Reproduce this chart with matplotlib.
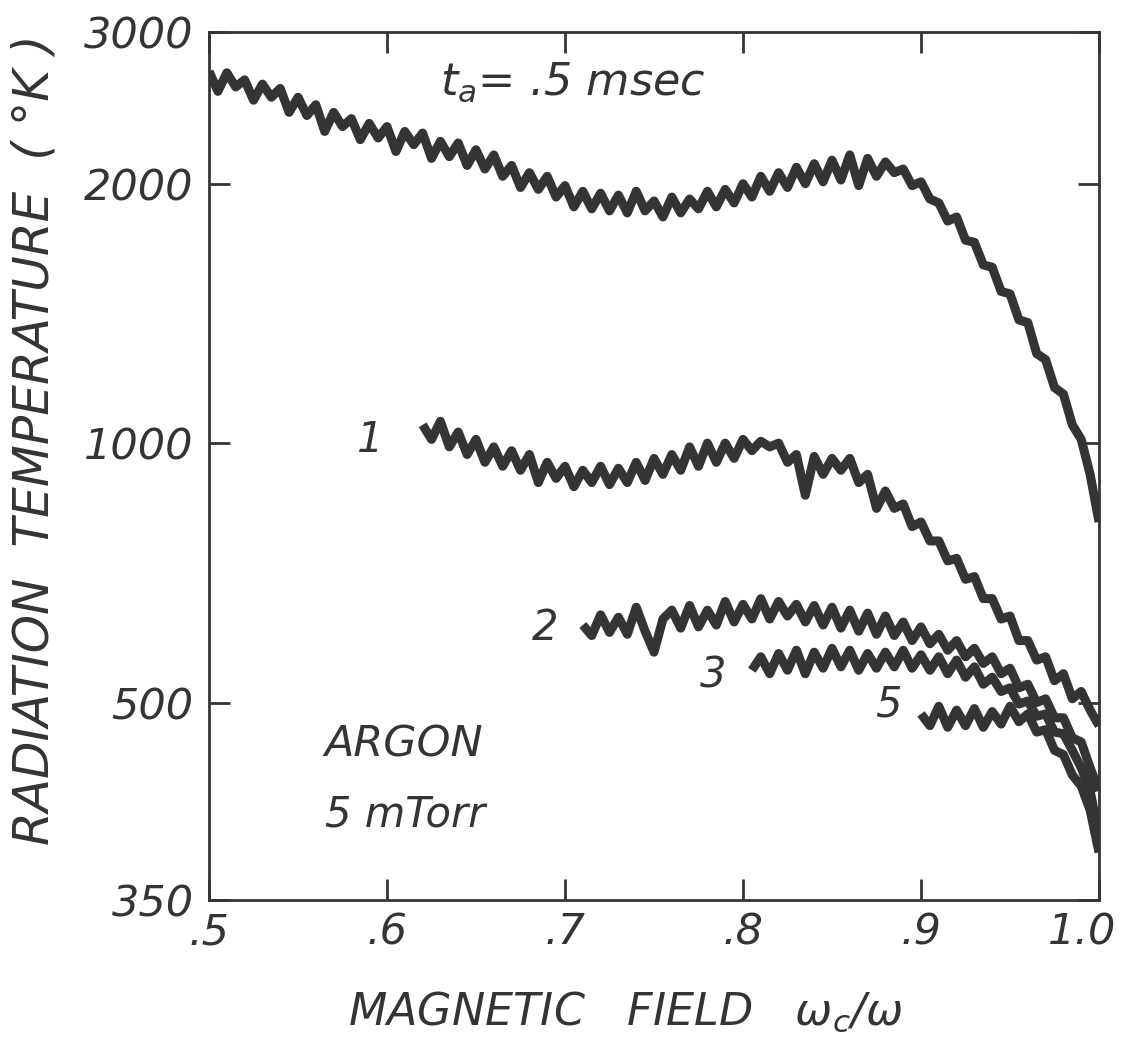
"""Radiation temperature vs. magnetic field, argon 5 mTorr (re-drawn trace figure)."""
import matplotlib
matplotlib.use("Agg")
import matplotlib.pyplot as plt
from matplotlib.transforms import ScaledTranslation

INK = "#343434"

# Field axis omega_c / omega and radiation temperature (K).
# Trace labelled by t_a = .5 msec (top, unlabelled curve)
x_top = [0.500, 0.505, 0.510, 0.515, 0.520, 0.525, 0.530, 0.535, 0.540, 0.545,
         0.550, 0.555, 0.560, 0.565, 0.570, 0.575, 0.580, 0.585, 0.590, 0.595,
         0.600, 0.605, 0.610, 0.615, 0.620, 0.625, 0.630, 0.635, 0.640, 0.645,
         0.650, 0.655, 0.660, 0.665, 0.670, 0.675, 0.680, 0.685, 0.690, 0.695,
         0.700, 0.705, 0.710, 0.715, 0.720, 0.725, 0.730, 0.735, 0.740, 0.745,
         0.750, 0.755, 0.760, 0.765, 0.770, 0.775, 0.780, 0.785, 0.790, 0.795,
         0.800, 0.805, 0.810, 0.815, 0.820, 0.825, 0.830, 0.835, 0.840, 0.845,
         0.850, 0.855, 0.860, 0.865, 0.870, 0.875, 0.880, 0.885, 0.890, 0.895,
         0.900, 0.905, 0.910, 0.915, 0.920, 0.925, 0.930, 0.935, 0.940, 0.945,
         0.950, 0.955, 0.960, 0.965, 0.970, 0.975, 0.980, 0.985, 0.990, 0.995,
         1.000]
t_top = [2700, 2560, 2690, 2590, 2640, 2500, 2610, 2520, 2580, 2420,
         2520, 2400, 2470, 2300, 2420, 2330, 2380, 2250, 2350, 2260,
         2330, 2180, 2300, 2220, 2290, 2140, 2240, 2150, 2230, 2100,
         2190, 2080, 2160, 2040, 2100, 1980, 2060, 1970, 2040, 1930,
         1990, 1880, 1960, 1870, 1950, 1860, 1940, 1850, 1960, 1860,
         1910, 1830, 1930, 1850, 1920, 1870, 1960, 1880, 1970, 1900,
         2000, 1930, 2040, 1960, 2060, 1980, 2090, 2000, 2110, 2010,
         2130, 2020, 2160, 1990, 2140, 2040, 2120, 2060, 2080, 1990,
         2010, 1920, 1900, 1810, 1830, 1720, 1710, 1610, 1600, 1500,
         1490, 1390, 1380, 1270, 1250, 1160, 1140, 1050, 1010, 920,
         810]

x_c1 = [0.620, 0.625, 0.630, 0.635, 0.640, 0.645, 0.650, 0.655, 0.660, 0.665,
        0.670, 0.675, 0.680, 0.685, 0.690, 0.695, 0.700, 0.705, 0.710, 0.715,
        0.720, 0.725, 0.730, 0.735, 0.740, 0.745, 0.750, 0.755, 0.760, 0.765,
        0.770, 0.775, 0.780, 0.785, 0.790, 0.795, 0.800, 0.805, 0.810, 0.815,
        0.820, 0.825, 0.830, 0.835, 0.840, 0.845, 0.850, 0.855, 0.860, 0.865,
        0.870, 0.875, 0.880, 0.885, 0.890, 0.895, 0.900, 0.905, 0.910, 0.915,
        0.920, 0.925, 0.930, 0.935, 0.940, 0.945, 0.950, 0.955, 0.960, 0.965,
        0.970, 0.975, 0.980, 0.985, 0.990, 0.995, 1.000]
t_c1 = [1050, 1010, 1060, 990, 1030, 970, 1010, 950, 990, 940,
        980, 930, 970, 900, 950, 910, 940, 890, 930, 900,
        940, 895, 935, 900, 950, 905, 960, 920, 970, 930,
        990, 940, 1000, 950, 1000, 960, 1010, 980, 1005, 990,
        1000, 950, 970, 870, 965, 920, 960, 930, 960, 900,
        920, 840, 880, 840, 850, 800, 810, 770, 770, 730,
        735, 695, 700, 660, 660, 625, 630, 590, 590, 560,
        565, 530, 540, 505, 515, 490, 470]

x_c2 = [0.710, 0.715, 0.720, 0.725, 0.730, 0.735, 0.740, 0.745, 0.750, 0.755,
        0.760, 0.765, 0.770, 0.775, 0.780, 0.785, 0.790, 0.795, 0.800, 0.805,
        0.810, 0.815, 0.820, 0.825, 0.830, 0.835, 0.840, 0.845, 0.850, 0.855,
        0.860, 0.865, 0.870, 0.875, 0.880, 0.885, 0.890, 0.895, 0.900, 0.905,
        0.910, 0.915, 0.920, 0.925, 0.930, 0.935, 0.940, 0.945, 0.950, 0.955,
        0.960, 0.965, 0.970, 0.975, 0.980, 0.985, 0.990, 0.995, 1.000]
t_c2 = [615, 598, 632, 603, 628, 600, 645, 605, 572, 625,
        640, 610, 648, 612, 640, 615, 655, 620, 650, 625,
        660, 625, 655, 630, 650, 620, 648, 615, 645, 610,
        640, 605, 635, 600, 630, 598, 620, 590, 612, 585,
        600, 575, 590, 565, 578, 555, 565, 540, 548, 520,
        525, 500, 505, 480, 480, 455, 450, 420, 395]

x_c3 = [0.805, 0.810, 0.815, 0.820, 0.825, 0.830, 0.835, 0.840, 0.845, 0.850,
        0.855, 0.860, 0.865, 0.870, 0.875, 0.880, 0.885, 0.890, 0.895, 0.900,
        0.905, 0.910, 0.915, 0.920, 0.925, 0.930, 0.935, 0.940, 0.945, 0.950,
        0.955, 0.960, 0.965, 0.970, 0.975, 0.980, 0.985, 0.990, 0.995, 1.000]
t_c3 = [545, 565, 540, 570, 545, 575, 540, 572, 548, 578,
        550, 575, 545, 570, 548, 572, 550, 575, 548, 568,
        545, 565, 540, 560, 535, 550, 525, 535, 515, 520,
        498, 502, 482, 485, 462, 460, 440, 420, 395, 350]

x_c5 = [0.900, 0.905, 0.910, 0.915, 0.920, 0.925, 0.930, 0.935, 0.940, 0.945,
        0.950, 0.955, 0.960, 0.965, 0.970, 0.975, 0.980, 0.985, 0.990, 0.995,
        1.000]
t_c5 = [485, 470, 495, 468, 490, 470, 492, 468, 488, 472,
        495, 475, 485, 462, 465, 440, 435, 412, 400, 375,
        335]

# The drawn axis is log in T; the 2000/1000/500 ticks fix the scale, which puts
# the bottom edge (lettered "350" on the original) at about 295 K.
y_tick_vals = [295, 500, 1000, 2000, 3000]
y_tick_text = ["350", "500", "1000", "2000", "3000"]
x_tick_vals = [0.5, 0.6, 0.7, 0.8, 0.9, 1.0]
x_tick_text = [".5", ".6", ".7", ".8", ".9", "1.0"]

curves = [
    (x_top, t_top),
    (x_c1, t_c1),
    (x_c2, t_c2),
    (x_c3, t_c3),
    (x_c5, t_c5),
]

plt.rcParams["font.family"] = "DejaVu Sans"
plt.rcParams["font.style"] = "oblique"
plt.rcParams["mathtext.fontset"] = "dejavusans"

fig = plt.figure(figsize=(11.28, 10.42), dpi=100)
fig.patch.set_facecolor("white")
ax = fig.add_axes([0.1853, 0.1363, 0.789, 0.833])

for xs, ts in curves:
    ax.plot(xs, ts, color=INK, linewidth=6.5, solid_joinstyle="round",
            solid_capstyle="butt")

ax.set_yscale("log")
ax.set_xlim(0.5, 1.0)
ax.set_ylim(295, 3000)
ax.set_xticks(x_tick_vals)
ax.set_xticklabels(x_tick_text)
ax.set_yticks(y_tick_vals)
ax.set_yticklabels(y_tick_text)
ax.minorticks_off()

for s in ax.spines.values():
    s.set_linewidth(2.0)
    s.set_color(INK)

ax.tick_params(axis="both", which="major", direction="in", length=15, width=2.0,
               color=INK, labelcolor=INK, labelsize=31, top=True, right=True)
ax.tick_params(axis="x", pad=8)
ax.tick_params(axis="y", pad=11)

# "1.0" sits on the right edge; nudge it left so it stays on the page
last = ax.get_xticklabels()[-1]
last.set_transform(last.get_transform() + ScaledTranslation(-12 / 72, 0, fig.dpi_scale_trans))

# annotations
ax.text(0.26, 0.942, r"$t_a$= .5 msec", transform=ax.transAxes,
        fontsize=32, color=INK, ha="left", va="center")
ax.text(0.13, 0.179, "ARGON", transform=ax.transAxes,
        fontsize=31, color=INK, ha="left", va="center")
ax.text(0.13, 0.098, "5 mTorr", transform=ax.transAxes,
        fontsize=30, color=INK, ha="left", va="center")
for lab, xf, yf in [("1", 0.181, 0.530), ("2", 0.378, 0.313),
                    ("3", 0.566, 0.259), ("5", 0.763, 0.225)]:
    ax.text(xf, yf, lab, transform=ax.transAxes, fontsize=30, color=INK,
            ha="center", va="center")

fig.text(35 / 1128, 1 - 440 / 1042, "RADIATION  TEMPERATURE  ( °K )",
         rotation=90, ha="center", va="center", fontsize=35, color=INK)
fig.text(625 / 1128, 1 - 1012 / 1042,
         r"MAGNETIC   FIELD   $\omega_c/\omega$",
         ha="center", va="center", fontsize=32, color=INK)

fig.savefig("out.png", dpi=100, facecolor="white")
